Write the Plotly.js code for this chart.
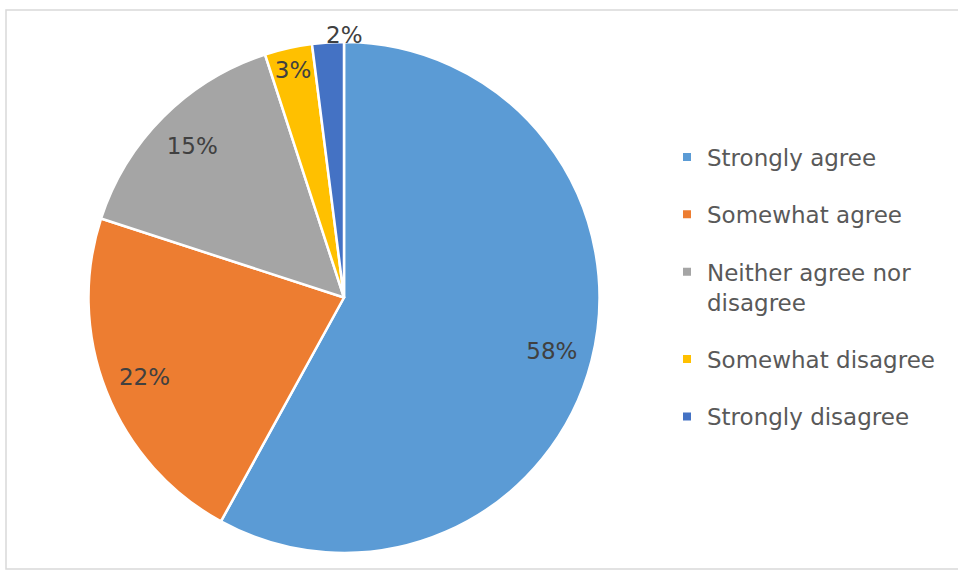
<!DOCTYPE html>
<html>
<head>
<meta charset="utf-8">
<script src="https://cdn.plot.ly/plotly-3.0.1.min.js"></script>
<style>
html,body{margin:0;padding:0;background:#fff;}
#chart{width:958px;height:581px;}
</style>
</head>
<body>
<div id="chart"></div>
<script>
const categories = ['Strongly agree', 'Somewhat agree', 'Neither agree nor disagree', 'Somewhat disagree', 'Strongly disagree'];
const legendLabels = ['Strongly agree', 'Somewhat agree', 'Neither agree nor<br>disagree', 'Somewhat disagree', 'Strongly disagree'];
const values = [58, 22, 15, 3, 2];
const colors = ['#5B9BD5', '#ED7D31', '#A5A5A5', '#FFC000', '#4472C4'];
const insideText = ['inside', 'inside', 'inside', 'inside', 'none'];

const W = 958, H = 581;
const FONT = 'DejaVu Sans, Verdana, sans-serif';
const pieDomain = {x: [88.5 / W, 599.5 / W], y: [(H - 553) / H, (H - 42) / H]};

const total = values.reduce((a, b) => a + b, 0);

const traces = [];
// main pie
traces.push({
  type: 'pie',
  values: values,
  labels: categories,
  sort: false,
  direction: 'clockwise',
  rotation: 0,
  marker: {colors: colors, line: {color: '#ffffff', width: 2.5}},
  textinfo: 'none',
  showlegend: false,
  hoverinfo: 'label+percent',
  domain: pieDomain
});
// transparent ring used only to place the percentage labels near the rim
traces.push({
  type: 'pie',
  values: values,
  labels: categories,
  sort: false,
  direction: 'clockwise',
  rotation: 0,
  hole: 0.68,
  marker: {colors: values.map(() => 'rgba(0,0,0,0)'), line: {width: 0}},
  textinfo: 'percent',
  textposition: insideText,
  insidetextorientation: 'horizontal',
  insidetextfont: {family: FONT, size: 23, color: '#404040'},
  showlegend: false,
  hoverinfo: 'skip',
  domain: pieDomain
});
// legend entries
categories.forEach((c, i) => {
  traces.push({
    type: 'scatter',
    mode: 'markers',
    x: [null], y: [null],
    name: legendLabels[i],
    legendgroup: 'g' + i,
    marker: {symbol: 'square', size: 8, color: colors[i]},
    hoverinfo: 'skip'
  });
});

const last = values.length - 1;
const layout = {
  width: W, height: H,
  margin: {l: 0, r: 0, t: 0, b: 0},
  paper_bgcolor: '#ffffff',
  plot_bgcolor: 'rgba(0,0,0,0)',
  font: {family: FONT, color: '#595959'},
  uniformtext: {minsize: 23, mode: 'show'},
  xaxis: {visible: false},
  yaxis: {visible: false},
  showlegend: true,
  legend: {
    x: 667 / W, xanchor: 'left',
    y: 1 - 135.5 / H, yanchor: 'top',
    font: {family: FONT, size: 23, color: '#595959'},
    tracegroupgap: 24.5,
    valign: 'top',
    bgcolor: 'rgba(0,0,0,0)',
    itemclick: false, itemdoubleclick: false
  },
  annotations: [{
    xref: 'paper', yref: 'paper',
    x: (pieDomain.x[0] + pieDomain.x[1]) / 2,
    y: pieDomain.y[1],
    xanchor: 'center', yanchor: 'bottom', yshift: -8,
    text: Math.round(values[last] / total * 100) + '%',
    showarrow: false,
    font: {family: FONT, size: 23, color: '#404040'}
  }],
  shapes: [{
    type: 'rect', xref: 'paper', yref: 'paper',
    x0: 6 / W, x1: 1.01, y0: (H - 569) / H, y1: (H - 10) / H,
    line: {color: '#D9D9D9', width: 1.5},
    fillcolor: 'rgba(0,0,0,0)', layer: 'below'
  }]
};

Plotly.newPlot('chart', traces, layout, {displayModeBar: false, staticPlot: true});
</script>
</body>
</html>
